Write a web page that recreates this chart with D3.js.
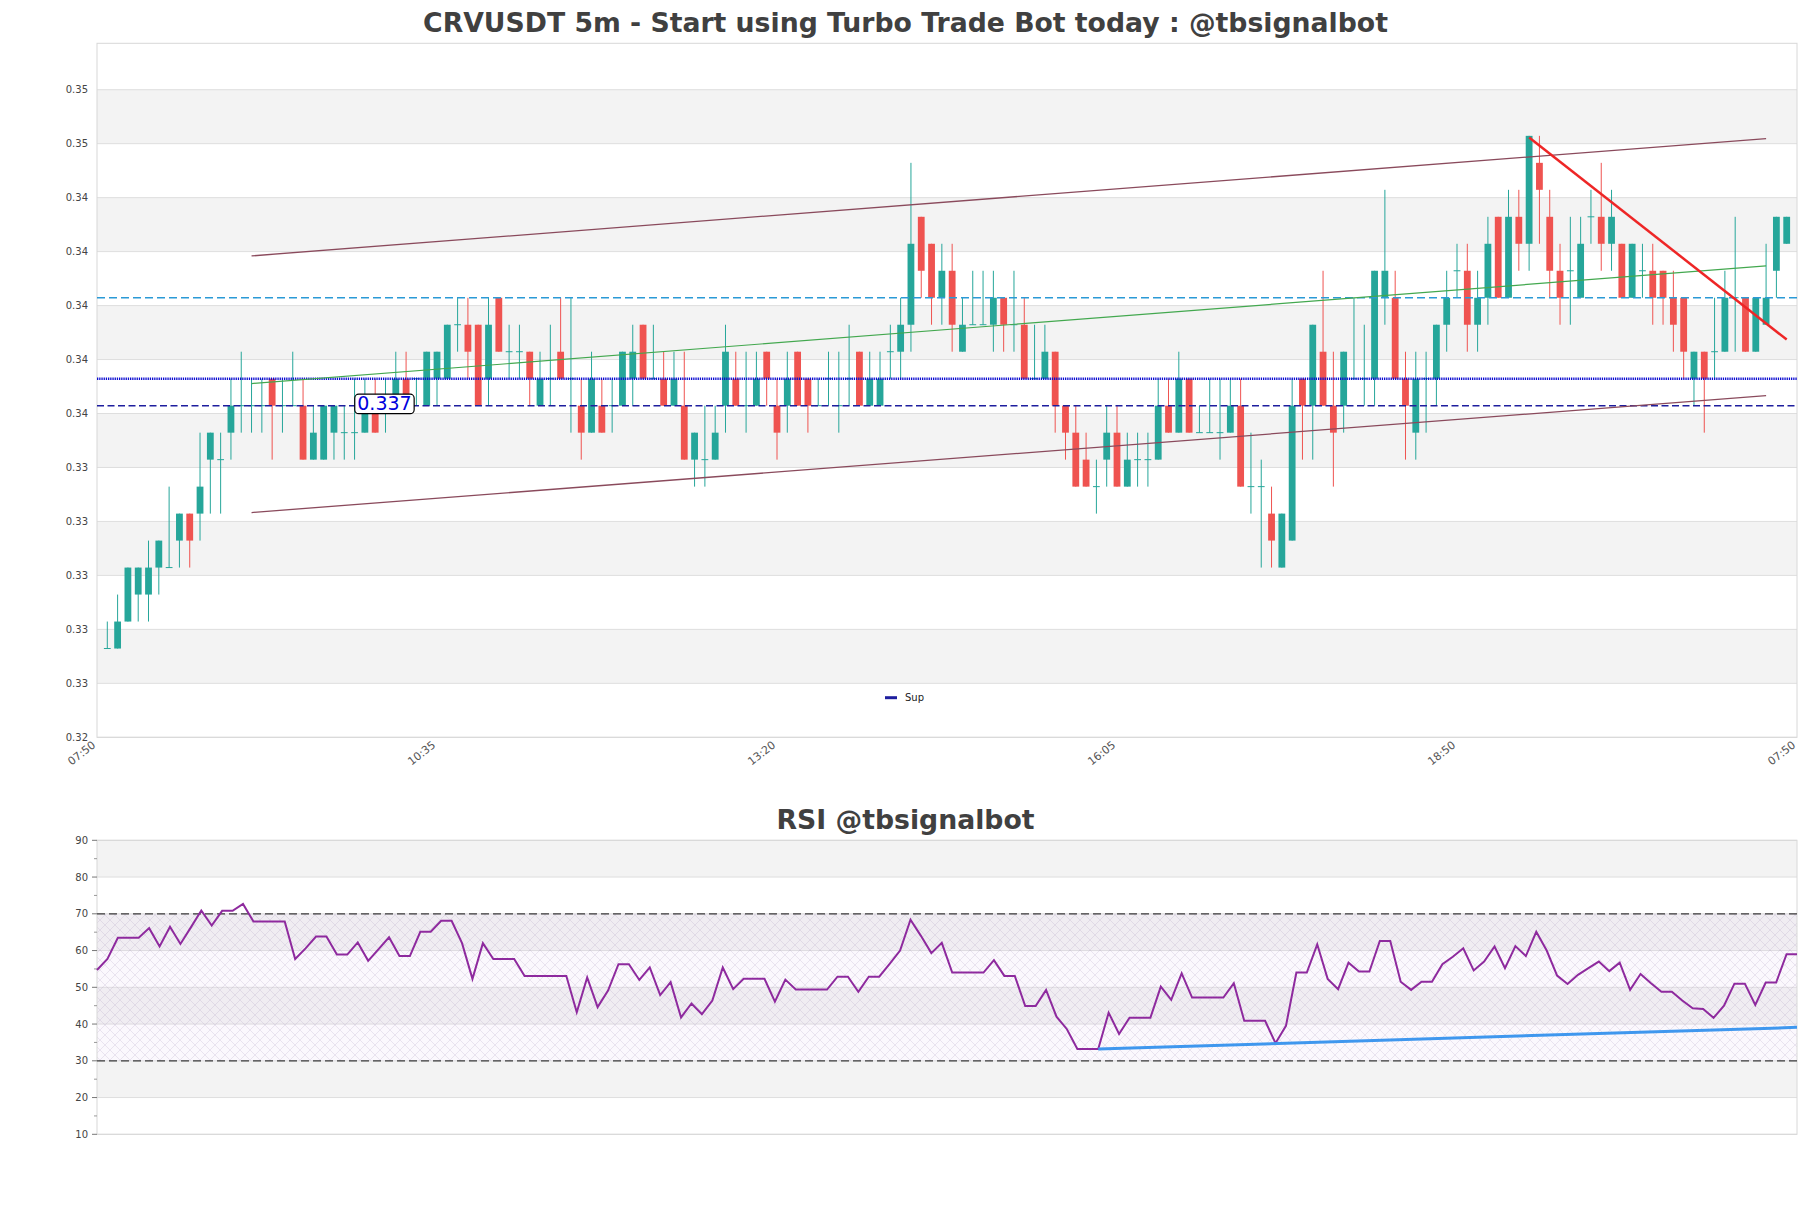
<!DOCTYPE html>
<html><head><meta charset="utf-8">
<script src="https://cdn.jsdelivr.net/npm/d3@7"></script>
<style>body{margin:0;background:#fff;} svg{display:block;font-family:"DejaVu Sans",sans-serif;}</style>
</head><body><svg id="c" width="1811" height="1208"></svg>
<script>
// ---------- DATA ----------
const mainTitle = "CRVUSDT 5m - Start using Turbo Trade Bot today : @tbsignalbot";
const rsiTitle = "RSI @tbsignalbot";

const opens = [
0.328,0.328,0.329,0.330,0.330,0.331,0.331,0.332,0.333,0.333,
0.335,0.335,0.336,0.337,0.337,0.337,0.338,0.337,0.337,0.337,
0.335,0.335,0.336,0.336,0.336,0.336,0.337,0.337,0.337,0.338,
0.338,0.337,0.338,0.338,0.340,0.340,0.340,0.338,0.341,0.339,
0.339,0.339,0.337,0.338,0.339,0.338,0.337,0.336,0.337,0.337,
0.337,0.338,0.340,0.338,0.338,0.337,0.337,0.335,0.335,0.335,
0.337,0.338,0.337,0.337,0.339,0.337,0.337,0.339,0.338,0.337,
0.338,0.337,0.338,0.339,0.337,0.337,0.339,0.339,0.340,0.344,
0.343,0.341,0.342,0.339,0.340,0.340,0.340,0.341,0.340,0.340,
0.338,0.338,0.339,0.337,0.336,0.335,0.334,0.335,0.336,0.334,
0.335,0.335,0.335,0.337,0.336,0.338,0.336,0.336,0.336,0.336,
0.337,0.334,0.334,0.333,0.331,0.332,0.338,0.337,0.339,0.337,
0.337,0.338,0.338,0.338,0.341,0.341,0.338,0.336,0.338,0.338,
0.340,0.342,0.342,0.340,0.341,0.344,0.341,0.344,0.343,0.346,
0.344,0.342,0.342,0.341,0.344,0.344,0.343,0.343,0.341,0.342,
0.342,0.342,0.341,0.341,0.338,0.339,0.339,0.339,0.341,0.341,
0.339,0.340,0.342,0.343];
const highs = [
0.329,0.330,0.331,0.331,0.332,0.332,0.334,0.333,0.333,0.336,
0.336,0.336,0.338,0.339,0.338,0.338,0.338,0.338,0.339,0.338,
0.337,0.337,0.337,0.337,0.338,0.338,0.338,0.338,0.339,0.339,
0.338,0.339,0.339,0.340,0.341,0.341,0.340,0.341,0.341,0.340,
0.340,0.339,0.339,0.340,0.341,0.341,0.338,0.339,0.338,0.338,
0.339,0.340,0.340,0.340,0.339,0.339,0.339,0.336,0.337,0.337,
0.340,0.339,0.339,0.339,0.339,0.338,0.339,0.339,0.338,0.338,
0.339,0.339,0.340,0.339,0.339,0.339,0.340,0.341,0.346,0.344,
0.343,0.343,0.343,0.341,0.342,0.342,0.342,0.341,0.342,0.341,
0.340,0.340,0.339,0.337,0.337,0.336,0.335,0.337,0.337,0.336,
0.336,0.336,0.338,0.338,0.339,0.338,0.337,0.338,0.338,0.338,
0.338,0.336,0.335,0.334,0.333,0.338,0.338,0.340,0.342,0.339,
0.339,0.341,0.340,0.342,0.345,0.342,0.339,0.339,0.339,0.340,
0.342,0.343,0.343,0.342,0.344,0.344,0.345,0.345,0.347,0.347,
0.345,0.343,0.344,0.344,0.345,0.346,0.345,0.343,0.343,0.343,
0.343,0.342,0.342,0.341,0.339,0.339,0.341,0.342,0.344,0.341,
0.341,0.343,0.344,0.344];
const lows = [
0.328,0.328,0.329,0.329,0.329,0.330,0.331,0.331,0.331,0.332,
0.333,0.333,0.335,0.336,0.336,0.336,0.335,0.336,0.337,0.335,
0.335,0.335,0.335,0.335,0.335,0.336,0.336,0.336,0.337,0.337,
0.337,0.337,0.337,0.338,0.339,0.338,0.337,0.337,0.339,0.338,
0.338,0.337,0.337,0.337,0.338,0.336,0.335,0.336,0.336,0.336,
0.337,0.337,0.338,0.338,0.337,0.337,0.335,0.334,0.334,0.335,
0.336,0.337,0.336,0.337,0.337,0.335,0.336,0.337,0.336,0.337,
0.337,0.336,0.337,0.337,0.337,0.337,0.338,0.338,0.339,0.341,
0.340,0.340,0.339,0.339,0.340,0.340,0.339,0.339,0.339,0.338,
0.338,0.338,0.336,0.335,0.334,0.334,0.333,0.334,0.334,0.334,
0.334,0.334,0.335,0.336,0.336,0.336,0.336,0.336,0.335,0.336,
0.334,0.333,0.331,0.331,0.331,0.332,0.335,0.335,0.337,0.334,
0.336,0.338,0.337,0.337,0.340,0.338,0.335,0.335,0.336,0.337,
0.339,0.341,0.339,0.339,0.340,0.341,0.341,0.342,0.342,0.343,
0.341,0.340,0.340,0.341,0.343,0.342,0.342,0.341,0.341,0.341,
0.340,0.340,0.339,0.338,0.337,0.336,0.338,0.339,0.339,0.339,
0.339,0.340,0.341,0.343];
const closes = [
0.328,0.329,0.331,0.331,0.331,0.332,0.331,0.333,0.332,0.334,
0.336,0.335,0.337,0.337,0.337,0.337,0.337,0.337,0.337,0.335,
0.336,0.337,0.337,0.336,0.336,0.337,0.336,0.337,0.338,0.337,
0.338,0.339,0.339,0.340,0.340,0.339,0.337,0.340,0.339,0.339,
0.339,0.338,0.338,0.338,0.338,0.338,0.336,0.338,0.336,0.337,
0.339,0.339,0.338,0.338,0.337,0.338,0.335,0.336,0.335,0.336,
0.339,0.337,0.337,0.338,0.338,0.336,0.338,0.337,0.337,0.337,
0.338,0.337,0.338,0.337,0.338,0.338,0.339,0.340,0.343,0.342,
0.341,0.342,0.340,0.340,0.340,0.340,0.341,0.340,0.340,0.338,
0.338,0.339,0.337,0.336,0.334,0.334,0.334,0.336,0.334,0.335,
0.335,0.335,0.337,0.336,0.338,0.336,0.336,0.336,0.336,0.337,
0.334,0.334,0.334,0.332,0.333,0.337,0.337,0.340,0.337,0.336,
0.339,0.338,0.338,0.342,0.342,0.338,0.337,0.338,0.338,0.340,
0.341,0.342,0.340,0.341,0.343,0.341,0.344,0.343,0.347,0.345,
0.342,0.341,0.342,0.343,0.344,0.343,0.344,0.341,0.343,0.342,
0.341,0.341,0.340,0.339,0.339,0.338,0.339,0.341,0.341,0.339,
0.341,0.341,0.344,0.344];

const xTickPos = [0, 33, 66, 99, 132, 165];
const xTickLabels = ["07:50", "10:35", "13:20", "16:05", "18:50", "07:50"];
const yTicks = [0.32471,0.32671,0.32871,0.33071,0.33271,0.33471,0.33671,0.33871,0.34071,0.34271,0.34471,0.34671,0.34871];
const yTickLabels = ["0.32","0.33","0.33","0.33","0.33","0.33","0.34","0.34","0.34","0.34","0.34","0.35","0.35"];

const supLevel = 0.337;
const dottedLevel = 0.338;
const cyanLevel = 0.341;
const supLabel = "0.337";
const supLabelPos = 27.9;
const channelUpper = [[15, 0.34255], [162, 0.34690]];
const channelLower = [[15, 0.33304], [162, 0.33737]];
const greenTrend = [[15, 0.33782], [162, 0.34218]];
const redTrend = [[139, 0.34694], [164, 0.33945]];

const rsi = [
54.7,57.7,63.5,63.5,63.5,66.1,61.1,66.5,61.8,66.3,70.9,66.8,70.8,70.8,72.7,67.9,67.9,67.9,67.9,57.7,
60.6,63.8,63.8,58.9,58.9,62.2,57.2,60.4,63.6,58.5,58.5,65.1,65.1,68.1,68.1,62.0,52.3,62.0,57.7,57.7,
57.7,53.1,53.1,53.1,53.1,53.1,43.2,52.7,44.6,
49.1,56.3,56.3,52.0,55.4,47.9,51.4,41.8,45.6,42.7,46.4,55.4,49.5,52.3,52.3,52.3,46.1,52.1,49.4,49.4,
49.4,49.4,52.9,52.9,48.8,52.9,52.9,56.4,60.0,68.4,64.0,59.3,62.1,54.0,54.0,54.0,54.0,57.4,53.1,53.1,
44.9,44.9,49.3,42.0,38.6,33.2,33.2,33.2,43.1,37.3,41.7,41.7,41.7,50.2,46.6,53.8,47.2,
47.2,47.2,47.2,51.1,40.9,40.9,40.9,34.8,39.5,54.0,54.0,61.7,52.3,49.5,56.7,54.3,54.3,62.6,62.6,51.5,
49.3,51.5,51.5,56.3,58.3,60.6,54.6,57.0,61.1,55.2,61.2,58.5,65.1,60.0,53.2,50.9,53.4,55.2,57.0,54.4,
56.7,49.3,53.6,51.1,48.8,48.8,46.4,44.3,44.1,41.7,45.0,51.0,51.0,45.2,51.3,51.3,59.0,59.0];
const rsiTicks = [10,20,30,40,50,60,70,80,90];
const rsiMinorTicks = [15,25,35,45,55,65,75,85];
const rsiBands = [[20,30],[40,50],[60,70],[80,90]];
const rsiLevels = [30, 70];
const rsiTrend = [[96, 33.2], [163, 39.1]];

// ---------- LAYOUT ----------
const M = {left: 97, right: 1797, top: 43.3, bottom: 737.3};
const R = {left: 97, right: 1797, top: 840.3, bottom: 1134.3};
const UP = "#26a69a", DOWN = "#ef5350";
const BAND = "#f3f3f3", GRID = "#dedede", BORDER = "#d8d8d8";

const svg = d3.select("#c");
const defs = svg.append("defs");
const pat = defs.append("pattern").attr("id","hatch").attr("patternUnits","userSpaceOnUse")
  .attr("width",10).attr("height",10);
pat.append("rect").attr("width",10).attr("height",10).attr("fill","rgba(220,195,235,0.12)");
pat.append("path").attr("d","M0,0L10,10M10,0L0,10").attr("stroke","rgba(150,125,175,0.25)").attr("stroke-width",0.7).attr("fill","none");

svg.append("text").attr("x",905.5).attr("y",31.7).attr("text-anchor","middle")
  .attr("font-size",26.7).attr("font-weight","bold").attr("fill","#404040").text(mainTitle);
svg.append("text").attr("x",905.5).attr("y",829).attr("text-anchor","middle")
  .attr("font-size",26.7).attr("font-weight","bold").attr("fill","#404040").text(rsiTitle);

// ---------- MAIN CHART ----------
const x = d3.scaleLinear().domain([0,165]).range([M.left,M.right]);
const y = d3.scaleLinear().domain([0.32471,0.35043]).range([M.bottom,M.top]);
const gM = svg.append("g");

yTicks.slice(0,-1).forEach((t,j)=>{
  if (j%2===1) gM.append("rect").attr("x",M.left).attr("width",M.right-M.left)
    .attr("y",y(yTicks[j+1])).attr("height",y(t)-y(yTicks[j+1])).attr("fill",BAND);
});
gM.selectAll(".yg").data(yTicks).join("line").attr("x1",M.left).attr("x2",M.right)
  .attr("y1",d=>y(d)).attr("y2",d=>y(d)).attr("stroke",GRID).attr("stroke-width",1);
gM.append("rect").attr("x",M.left).attr("y",M.top).attr("width",M.right-M.left).attr("height",M.bottom-M.top)
  .attr("fill","none").attr("stroke",BORDER);

gM.selectAll(".yl").data(yTicks).join("text").attr("x",88).attr("y",d=>y(d)).attr("dy","0.35em")
  .attr("text-anchor","end").attr("font-size",10).attr("fill","#444").text((d,i)=>yTickLabels[i]);
gM.selectAll(".xl").data(xTickPos).join("text")
  .attr("transform",d=>`translate(${x(d)-3},${M.bottom+6}) rotate(-38)`)
  .attr("text-anchor","end").attr("dy","0.35em").attr("font-size",11).attr("fill","#555")
  .text((d,i)=>xTickLabels[i]);

const candles = opens.map((o,i)=>({k:i+1,o,h:highs[i],l:lows[i],c:closes[i]}));
const bw = 6.8;
const cg = gM.append("g");
candles.forEach(d=>{
  const col = d.c >= d.o ? UP : DOWN;
  cg.append("line").attr("x1",x(d.k)).attr("x2",x(d.k)).attr("y1",y(d.h)).attr("y2",y(d.l))
    .attr("stroke",col).attr("stroke-width",1);
  if (d.o === d.c) {
    cg.append("line").attr("x1",x(d.k)-bw/2).attr("x2",x(d.k)+bw/2).attr("y1",y(d.o)).attr("y2",y(d.o))
      .attr("stroke",col).attr("stroke-width",1);
  } else {
    cg.append("rect").attr("x",x(d.k)-bw/2).attr("width",bw)
      .attr("y",y(Math.max(d.o,d.c))).attr("height",y(Math.min(d.o,d.c))-y(Math.max(d.o,d.c))).attr("fill",col);
  }
});

function hline(v,color,w,dash){
  gM.append("line").attr("x1",M.left).attr("x2",M.right).attr("y1",y(v)).attr("y2",y(v))
    .attr("stroke",color).attr("stroke-width",w).attr("stroke-dasharray",dash);
}
hline(cyanLevel,"#2b9ad6",1.3,"8,4");
hline(dottedLevel,"#0c0cd0",2.6,"1.3,0.9");
hline(supLevel,"#1e1e9e",1.5,"7,3.5");

const lg = d3.line().x(d=>x(d[0])).y(d=>y(d[1]));
gM.append("path").attr("d",lg(channelUpper)).attr("stroke","#8a4a5c").attr("stroke-width",1.3).attr("fill","none");
gM.append("path").attr("d",lg(channelLower)).attr("stroke","#8a4a5c").attr("stroke-width",1.3).attr("fill","none");
gM.append("path").attr("d",lg(greenTrend)).attr("stroke","#43a84f").attr("stroke-width",1.2).attr("fill","none");
gM.append("path").attr("d",lg(redTrend)).attr("stroke","#ee2626").attr("stroke-width",2.5).attr("fill","none");

const lbl = gM.append("g");
const lt = lbl.append("text").attr("x",x(supLabelPos)).attr("y",y(supLevel)+4.8).attr("text-anchor","middle")
  .attr("font-size",19).attr("fill","#0000dd").text(supLabel);
const bb = lt.node().getBBox();
lbl.insert("rect","text").attr("x",bb.x-2.5).attr("y",y(supLevel)-11.5).attr("width",bb.width+5).attr("height",19.5)
  .attr("rx",4).attr("fill","#fff").attr("stroke","#000").attr("stroke-width",1.2);

gM.append("line").attr("x1",885).attr("x2",897).attr("y1",697.7).attr("y2",697.7).attr("stroke","#1e1e9e").attr("stroke-width",3);
gM.append("text").attr("x",905).attr("y",697).attr("dy","0.35em").attr("font-size",10).attr("fill","#222").text("Sup");

// ---------- RSI ----------
const xr = d3.scaleLinear().domain([0,rsi.length-1]).range([R.left,R.right]);
const yr = d3.scaleLinear().domain([10,90]).range([R.bottom,R.top]);
const gR = svg.append("g");
rsiBands.forEach(b=>gR.append("rect").attr("x",R.left).attr("width",R.right-R.left)
  .attr("y",yr(b[1])).attr("height",yr(b[0])-yr(b[1])).attr("fill",BAND));
gR.selectAll(".rg").data(rsiTicks).join("line").attr("x1",R.left).attr("x2",R.right)
  .attr("y1",d=>yr(d)).attr("y2",d=>yr(d)).attr("stroke",GRID);
gR.append("rect").attr("x",R.left).attr("width",R.right-R.left).attr("y",yr(rsiLevels[1]))
  .attr("height",yr(rsiLevels[0])-yr(rsiLevels[1])).attr("fill","url(#hatch)");
gR.append("rect").attr("x",R.left).attr("y",R.top).attr("width",R.right-R.left).attr("height",R.bottom-R.top)
  .attr("fill","none").attr("stroke",BORDER);
rsiLevels.forEach(v=>gR.append("line").attr("x1",R.left).attr("x2",R.right).attr("y1",yr(v)).attr("y2",yr(v))
  .attr("stroke","#3a3a3a").attr("stroke-width",1.2).attr("stroke-dasharray","8,4"));
gR.selectAll(".rt").data(rsiTicks).join("line").attr("x1",92).attr("x2",97).attr("y1",d=>yr(d)).attr("y2",d=>yr(d)).attr("stroke","#777");
gR.selectAll(".rm").data(rsiMinorTicks).join("line").attr("x1",94).attr("x2",97).attr("y1",d=>yr(d)).attr("y2",d=>yr(d)).attr("stroke","#999");
gR.selectAll(".rl").data(rsiTicks).join("text").attr("x",88).attr("y",d=>yr(d)).attr("dy","0.35em")
  .attr("text-anchor","end").attr("font-size",10).attr("fill","#444").text(d=>d);
gR.append("path").attr("d",d3.line().x((d,i)=>xr(i)).y(d=>yr(d))(rsi))
  .attr("fill","none").attr("stroke","#8e2a9e").attr("stroke-width",2);
gR.append("path").attr("d",d3.line().x(d=>xr(d[0])).y(d=>yr(d[1]))(rsiTrend))
  .attr("fill","none").attr("stroke","#3f97ee").attr("stroke-width",3);
</script></body></html>
